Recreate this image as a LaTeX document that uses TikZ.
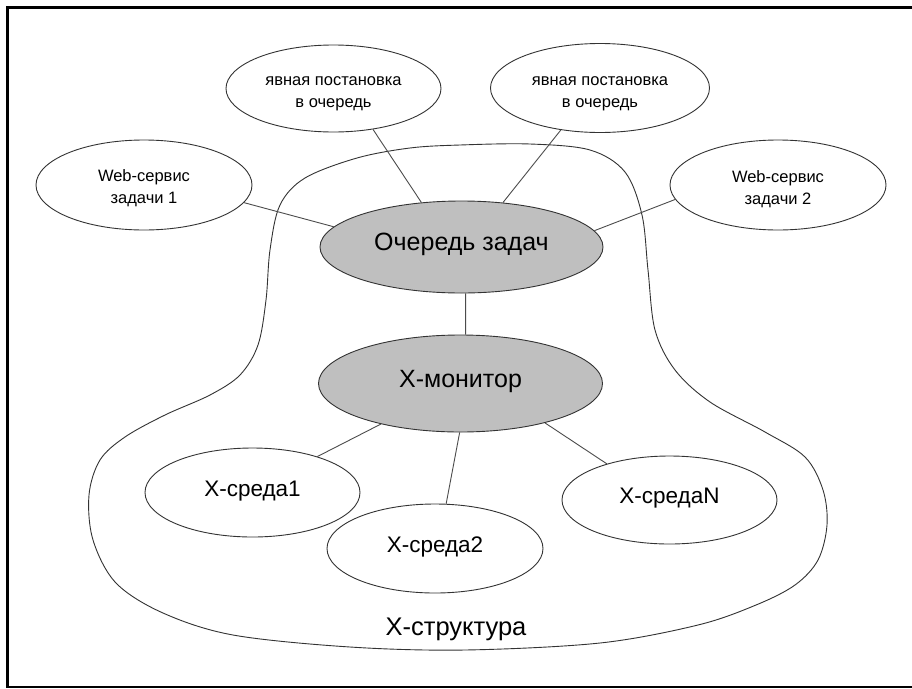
\documentclass[tikz,border=0pt]{standalone}
\usepackage{fontspec}
\setmainfont{Liberation Sans}
\usetikzlibrary{shapes.geometric}
\begin{document}
\begin{tikzpicture}[x=1pt,y=-1pt,
  oval/.style={ellipse, draw=black!80, line width=0.9pt, inner sep=0pt, align=center},
  smalltext/.style={font=\fontsize{16.5}{22}\selectfont, align=center, inner sep=0pt},
  bigtext/.style={font=\fontsize{25}{30}\selectfont, text height=0.72em, text depth=0pt},
  midtext/.style={font=\fontsize{22.5}{27}\selectfont, text height=0.72em, text depth=0pt},
  hub/.style={oval, fill=black!25},
  link/.style={draw=black!70, line width=0.9pt},
  outline/.style={draw=black!80, line width=0.9pt}
]
\useasboundingbox (0,0) rectangle (912,688);
\fill[white] (0,0) rectangle (912,688);
% frame
\draw[line width=2.2pt] (913,7.5) -- (7.5,7.5) -- (7.5,687) -- (913,687);

% X-structure outline
\draw[outline] plot[smooth cycle, tension=0.55] coordinates {
  (460,145) (530,144) (590,150) (625,172) (642,215) (648,270) (655,330)
  (675,370) (710,402) (765,432) (805,457) (823,490) (827,525) (818,560)
  (795,585) (756,605) (698,625) (600,643) (465,650) (350,647) (233,635)
  (163,613) (116,583) (93,540) (89,495) (100,460) (125,437) (165,415)
  (210,395) (240,375) (258,345) (266,300) (270,250) (280,205) (305,178)
  (357,158) (410,148)};

% outer ellipses with two-line captions
\node[oval, minimum width=216pt, minimum height=90pt] (web1) at (144,185) {};
\node[oval, minimum width=215pt, minimum height=87pt] (put1) at (333.5,88.5) {};
\node[oval, minimum width=219pt, minimum height=89pt] (put2) at (600,88) {};
\node[oval, minimum width=216pt, minimum height=90pt] (web2) at (778,185) {};
\node[smalltext] (web1t) at ([yshift=-3.5pt]web1.center) {Web-сервис\\задачи 1};
\node[smalltext] (put1t) at ([yshift=-5pt]put1.center) {явная постановка\\в очередь};
\node[smalltext] (put2t) at ([yshift=-5.5pt]put2.center) {явная постановка\\в очередь};
\node[smalltext] (web2t) at ([yshift=-4pt]web2.center) {Web-сервис\\задачи 2};

% inner ellipses
\node[hub, bigtext, minimum width=283pt, minimum height=92pt] (queue) at (461.5,247) {Очередь задач};
\node[hub, bigtext, minimum width=284pt, minimum height=97pt] (mon) at (460.5,383.5) {X-монитор};
\node[oval, midtext, minimum width=215pt, minimum height=89pt] (env1) at (252.5,492.5) {X-среда1};
\node[oval, midtext, minimum width=216pt, minimum height=89pt] (env2) at (435,548.5) {X-среда2};
\node[oval, midtext, minimum width=215pt, minimum height=88pt] (envN) at (669.5,500) {X-средаN};
\node[font=\fontsize{25.5}{30}\selectfont, anchor=base] (xs) at (456,635) {X-структура};

% connectors
\draw[link] (web1.-10.3) -- (queue.171.4);
\draw[link] (put1.-46.4) -- (queue.132.7);
\draw[link] (put2.-133.6) -- (queue.47.9);
\draw[link] (web2.188.4) -- (queue.7.3);
\draw[link] (queue.-85.6) -- (mon.84.7);
\draw[link] (mon.207.6) -- (env1.29.1);
\draw[link] (mon.-91.8) -- (env2.76);
\draw[link] (mon.-25.1) -- (envN.150.2);
\end{tikzpicture}
\end{document}
